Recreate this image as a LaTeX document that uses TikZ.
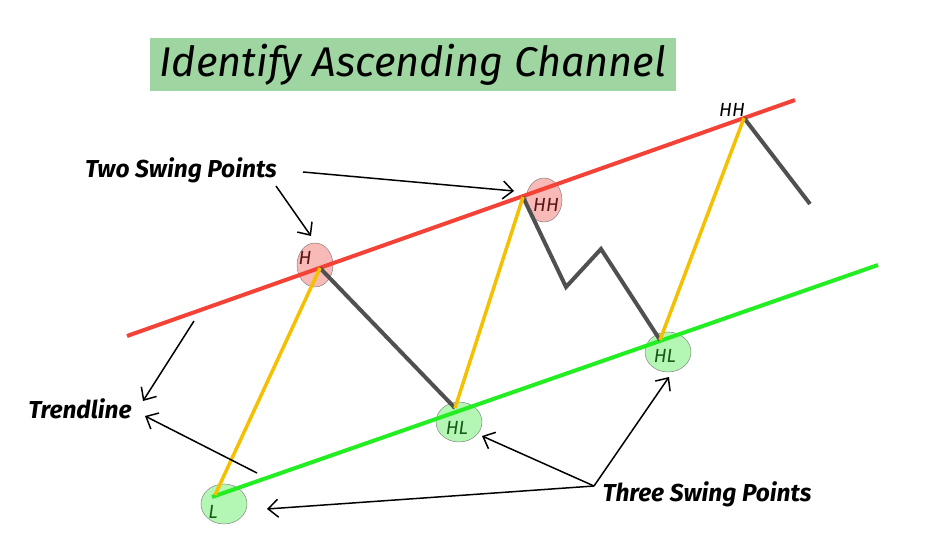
\documentclass[tikz,border=0pt]{standalone}
\usepackage{fontspec}
\setmainfont{Fira Sans}
\usetikzlibrary{arrows.meta,shapes.geometric}

\definecolor{trendred}{RGB}{244,67,54}
\definecolor{trendgreen}{RGB}{34,238,34}
\definecolor{legyellow}{RGB}{245,192,0}
\definecolor{leggrey}{RGB}{80,80,80}
\definecolor{highfill}{RGB}{248,186,182}
\definecolor{lowfill}{RGB}{180,246,180}
\definecolor{titlefill}{RGB}{158,213,160}
\definecolor{hightext}{RGB}{90,20,20}
\definecolor{lowtext}{RGB}{20,90,20}

\tikzset{
	swinghigh/.style={ellipse, draw=black!55, fill=highfill, inner sep=0pt, minimum width=36pt, minimum height=44pt},
	swinglow/.style={ellipse, draw=black!55, fill=lowfill, inner sep=0pt, minimum width=46pt, minimum height=40pt},
	note/.style={font=\fontsize{24.5}{26}\selectfont\bfseries\itshape},
	tag/.style={font=\fontsize{19}{21}\selectfont\itshape, inner sep=0pt},
	pointer/.style={-{Straight Barb[length=10pt,width=18pt]}, line width=1.5pt},
	upleg/.style={legyellow, line width=3.5pt},
	downleg/.style={leggrey, line width=4pt}
}

\begin{document}
\begin{tikzpicture}[x=1pt, y=-1pt]
		\useasboundingbox (0,0) rectangle (932,556);
		% Title
		\node[fill=titlefill, minimum width=526pt, minimum height=53pt, font=\fontsize{41.5}{43}\selectfont\itshape] (title) at (413,64.5) {Identify Ascending Channel};
		
		% Swing point circles
		\node[swinghigh] (H) at (315,265) {};
		\node[swinghigh] (HH) at (544,200) {};
		\node[swinglow] (L) at (224,504) {};
		\node[swinglow] (HLa) at (459,422) {};
		\node[swinglow] (HLb) at (668,352) {};
		
		% Channel lines
		\coordinate (r1) at (127,336);
		\coordinate (r2) at (795,100);
		\coordinate (g1) at (212,497);
		\coordinate (g2) at (878,265);
		\draw[trendred, line width=4pt] (r1) -- (r2);
		\draw[trendgreen, line width=4pt] (g1) -- (g2);
		
		% Price swings
		\coordinate (pL) at (215,495);
		\coordinate (pH) at (320,268);
		\coordinate (pHLa) at (455,408);
		\coordinate (pHHa) at (523,197);
		\coordinate (pA) at (566,287);
		\coordinate (pB) at (601,249);
		\coordinate (pHLb) at (660,340);
		\coordinate (pHHb) at (744,118);
		\coordinate (pEnd) at (810,204);
		\draw[downleg] (pH) -- (pHLa);
		\draw[downleg] (pHHa) -- (pA) -- (pB) -- (pHLb);
		\draw[downleg] (pHHb) -- (pEnd);
		\draw[upleg] (pL) -- (pH);
		\draw[upleg] (pHLa) -- (pHHa);
		\draw[upleg] (pHLb) -- (pHHb);
		
		% Point labels
		\node[tag, text=hightext] (tH) at (305,258) {H};
		\node[tag, text=hightext] (tHH) at (546,205) {HH};
		\node[tag] (tHHb) at (732,110) {HH};
		\node[tag, text=lowtext] (tL) at (213,512) {L};
		\node[tag, text=lowtext] (tHLa) at (457,428) {HL};
		\node[tag, text=lowtext] (tHLb) at (665,356) {HL};
		
		% Notes
		\node[note] (two) at (181,170) {Two Swing Points};
		\node[note] (trend) at (80,409) {Trendline};
		\node[note] (three) at (707,494) {Three Swing Points};
		
		% Pointers
		\coordinate (a1) at (303,172);
		\coordinate (a1e) at (514,191);
		\coordinate (a2) at (276,186);
		\coordinate (a2e) at (311,236);
		\draw[pointer] (a1) -- (a1e);
		\draw[pointer] (a2) -- (a2e);
		
		\coordinate (b1) at (194,321);
		\coordinate (b1e) at (143,401);
		\coordinate (b2) at (257,473);
		\coordinate (b2e) at (145,416);
		\draw[pointer] (b1) -- (b1e);
		\draw[pointer] (b2) -- (b2e);
		
		\coordinate (c0) at (594,486);
		\coordinate (c1e) at (267,509);
		\coordinate (c2e) at (482,436);
		\coordinate (c3e) at (669,377);
		\draw[pointer] (c0) -- (c1e);
		\draw[pointer] (c0) -- (c2e);
		\draw[pointer] (c0) -- (c3e);
		
	\end{tikzpicture}
\end{document}
